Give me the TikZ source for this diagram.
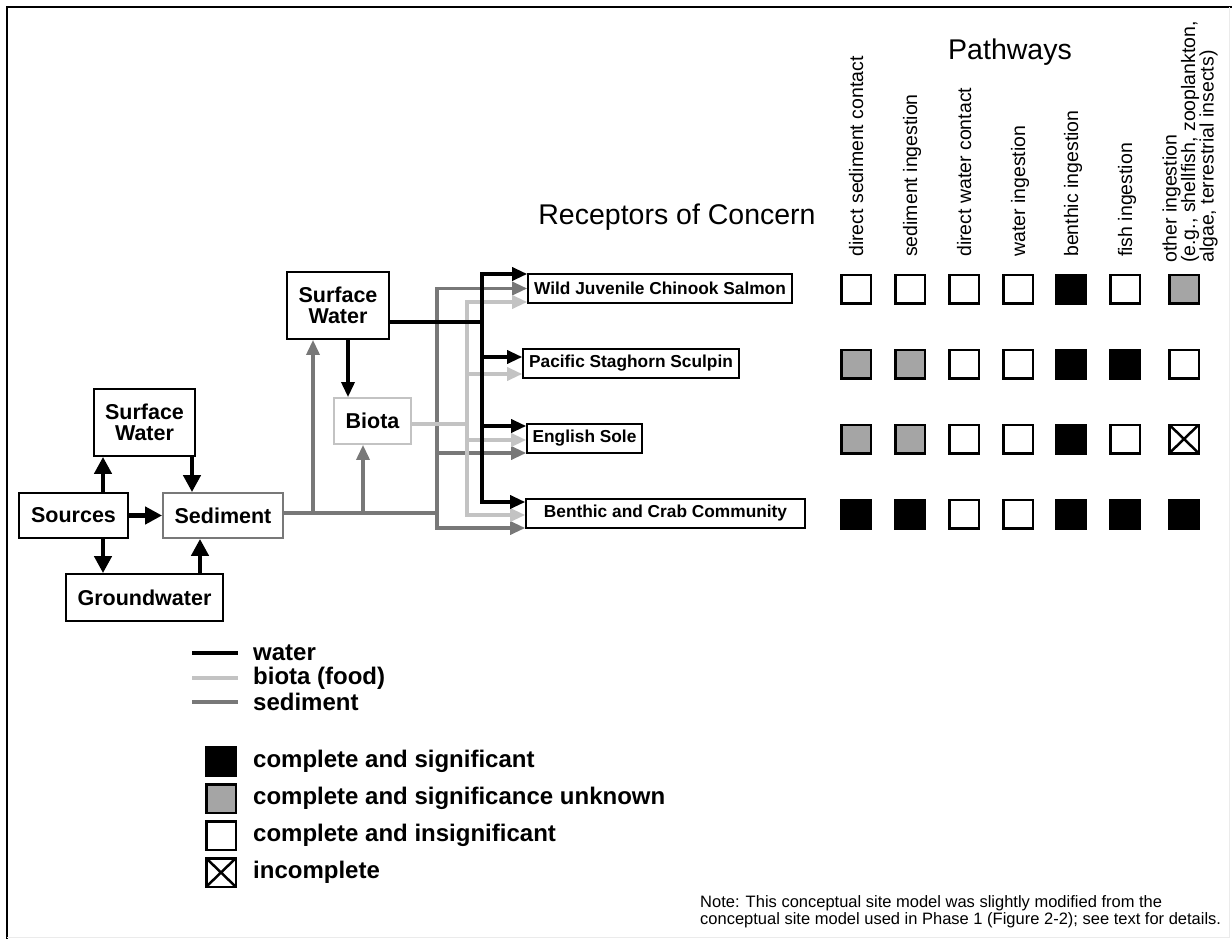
\documentclass[tikz,border=0pt]{standalone}
\usepackage{fontspec}
\setmainfont{Liberation Sans}
\usepackage{tikz}
\usetikzlibrary{arrows.meta}
\definecolor{sedgray}{RGB}{120,120,120}
\definecolor{foodgray}{RGB}{195,195,195}
\definecolor{fillgray}{RGB}{165,165,165}

\begin{document}
\begin{tikzpicture}[x=1pt, y=-1pt,
  box/.style={draw, line width=1.8pt, fill=white, inner sep=0pt, align=center, font=\fontsize{21.5}{21}\selectfont\bfseries},
  recbox/.style={draw, line width=1.6pt, fill=white, inner sep=0pt, font=\fontsize{17.3}{18}\selectfont\bfseries},
  water/.style={draw=black, line width=3.3pt},
  food/.style={draw=foodgray, line width=3.3pt},
  sedline/.style={draw=sedgray, line width=3.3pt},
  tip/.style={-{Triangle[length=15pt,width=13pt]}},
  bigtip/.style={draw=black, line width=4.5pt, -{Triangle[length=17pt,width=17pt]}},
  sq/.style={draw, line width=2.5pt, minimum width=29.5pt, minimum height=28.5pt, inner sep=0pt},
  sqk/.style={sq, fill=black},
  sqg/.style={sq, fill=fillgray},
  sqw/.style={sq, fill=white},
  sqx/.style={sq, fill=white, path picture={
    \draw[line width=2.5pt] (path picture bounding box.north west) -- (path picture bounding box.south east)
      (path picture bounding box.north east) -- (path picture bounding box.south west);}},
  colhead/.style={rotate=90, anchor=base west, inner sep=0pt, font=\fontsize{19.5}{18.5}\selectfont},
  legtext/.style={anchor=west, inner sep=0pt, font=\fontsize{24}{24}\selectfont\bfseries}
]
\useasboundingbox (0,0) rectangle (1232,939);
\draw[line width=2.5pt] (7,939) -- (7,7) -- (1232,7);
\draw[black!8, line width=1pt] (1229,7) -- (1229,937) -- (7,937);

% left part
\node[box, minimum width=101pt, minimum height=67pt] (swl) at (144.5,422.5) {Surface\\Water};
\node[box, minimum width=109pt, minimum height=45pt] (src) at (73.5,515.5) {Sources};
\node[box, draw=sedgray, minimum width=120pt, minimum height=45pt] (sed) at (223,515.5) {Sediment};
\node[box, minimum width=157pt, minimum height=47pt] (gw) at (144.5,597.5) {Groundwater};

\draw[bigtip] ([xshift=29.5pt]src.north) -- ([xshift=29.5pt]src.north |- swl.south);
\draw[bigtip] ([xshift=-31pt]sed.north |- swl.south) -- ([xshift=-31pt]sed.north);
\draw[bigtip] ([xshift=29.5pt]src.south) -- ([xshift=29.5pt]src.south |- gw.north);
\draw[bigtip] ([xshift=-23pt]sed.south |- gw.north) -- ([xshift=-23pt]sed.south);
\draw[bigtip] (src.east) -- (sed.west);

% middle part
\node[box, minimum width=102pt, minimum height=67pt] (swu) at (338,305.5) {Surface\\Water};
\node[box, draw=foodgray, minimum width=77pt, minimum height=46pt] (biota) at (372.5,421) {Biota};

\coordinate (sj1) at (313,513);
\coordinate (sj2) at (363,513);
\coordinate (sbus) at (437,513);
\coordinate (bbus) at (467,424);
\coordinate (wbus) at (482,322);

% receptors
\node[recbox, minimum width=264pt, minimum height=29pt] (wild) at (660,288.5) {Wild Juvenile Chinook Salmon};
\node[recbox, minimum width=216pt, minimum height=29pt] (pac) at (631,363.5) {Pacific Staghorn Sculpin};
\node[recbox, minimum width=115pt, minimum height=29pt] (eng) at (584.5,438.5) {English Sole};
\node[recbox, minimum width=279pt, minimum height=29pt] (ben) at (665.5,513.5) {Benthic and Crab Community};

% sediment pathways
\draw[sedline, line width=4pt] ([yshift=2.5pt]sed.east) -- (sbus);
\draw[sedline, tip] (sj1) -- (sj1 |- swu.south);
\draw[sedline, tip] (sj2) -- (sj2 |- biota.south);
\draw[sedline, tip] (sbus) |- (wild.west);
\draw[sedline, tip] (sbus) |- ([yshift=-14.5pt]eng.west);
\draw[sedline, tip] (sbus) |- ([yshift=-14.5pt]ben.west);

% biota pathways
\draw[food] ([yshift=-3pt]biota.east) -- (bbus);
\draw[food, tip] (bbus) |- ([yshift=-13.5pt]wild.west);
\draw[food, tip] (bbus) |- ([yshift=-10.5pt]pac.west);
\draw[food, tip] (bbus) |- ([yshift=-1.5pt]eng.west);
\draw[food, tip] (bbus) |- ([yshift=-1.5pt]ben.west);

% water pathways
\draw[water, tip] ([xshift=10pt]swu.south) -- ([xshift=10pt]swu.south |- biota.north);
\draw[water] ([yshift=-16.5pt]swu.east) -- (wbus);
\draw[water, tip] (wbus) |- ([yshift=14.5pt]wild.west);
\draw[water, tip] (wbus) |- ([yshift=6.5pt]pac.west);
\draw[water, tip] (wbus) |- ([yshift=12.5pt]eng.west);
\draw[water, tip] (wbus) |- ([yshift=11.5pt]ben.west);

% headings
\node[anchor=base, inner sep=0pt, font=\fontsize{28.5}{28}\selectfont] (rochead) at (677,224) {Receptors of Concern};
\node[anchor=base, inner sep=0pt, font=\fontsize{28.5}{28}\selectfont] (pathhead) at (1010,60) {Pathways};

\node[colhead] (c1) at (863,257) {direct sediment contact};
\node[colhead] (c2) at (917,257) {sediment ingestion};
\node[colhead] (c3) at (971,257) {direct water contact};
\node[colhead] (c4) at (1025,257) {water ingestion};
\node[colhead] (c5) at (1078,257) {benthic ingestion};
\node[colhead] (c6) at (1132,257) {fish ingestion};
\node[colhead, anchor=west, align=left] (c7) at (1190,263) {other ingestion\\(e.g., shellfish, zooplankton,\\algae, terrestrial insects)};

% pathway table
\node[sqw] (s11) at (856,289) {}; \node[sqw] (s12) at (910,289) {}; \node[sqw] (s13) at (964,289) {};
\node[sqw] (s14) at (1018,289) {}; \node[sqk] (s15) at (1071,289) {}; \node[sqw] (s16) at (1125,289) {};
\node[sqg] (s17) at (1184,289) {};

\node[sqg] (s21) at (856,364) {}; \node[sqg] (s22) at (910,364) {}; \node[sqw] (s23) at (964,364) {};
\node[sqw] (s24) at (1018,364) {}; \node[sqk] (s25) at (1071,364) {}; \node[sqk] (s26) at (1125,364) {};
\node[sqw] (s27) at (1184,364) {};

\node[sqg] (s31) at (856,439) {}; \node[sqg] (s32) at (910,439) {}; \node[sqw] (s33) at (964,439) {};
\node[sqw] (s34) at (1018,439) {}; \node[sqk] (s35) at (1071,439) {}; \node[sqw] (s36) at (1125,439) {};
\node[sqx] (s37) at (1184,439) {};

\node[sqk] (s41) at (856,514) {}; \node[sqk] (s42) at (910,514) {}; \node[sqw] (s43) at (964,514) {};
\node[sqw] (s44) at (1018,514) {}; \node[sqk] (s45) at (1071,514) {}; \node[sqk] (s46) at (1125,514) {};
\node[sqk] (s47) at (1184,514) {};

% legend
\node[legtext] (lwater) at (253,653) {water};
\node[legtext] (lfood) at (253,678) {biota (food)};
\node[legtext] (lsed) at (253,702) {sediment};
\draw[water] ([xshift=-61pt]lwater.west) -- ([xshift=-15pt]lwater.west);
\draw[food] ([xshift=-61pt]lfood.west) -- ([xshift=-15pt]lfood.west);
\draw[sedline] ([xshift=-61pt]lsed.west) -- ([xshift=-15pt]lsed.west);

\node[sqk] (k1) at (221,761.5) {};
\node[sqg] (k2) at (221,798.5) {};
\node[sqw] (k3) at (221,835.5) {};
\node[sqx] (k4) at (221,872.5) {};
\node[legtext] (lk1) at (253,761.5) {complete and significant};
\node[legtext] (lk2) at (253,798.5) {complete and significance unknown};
\node[legtext] (lk3) at (253,835.5) {complete and insignificant};
\node[legtext] (lk4) at (253,872.5) {incomplete};

\node[anchor=west, align=left, inner sep=0pt, font=\fontsize{16.5}{17}\selectfont] (note) at (700,911.5)
  {Note: This conceptual site model was slightly modified from the\\conceptual site model used in Phase 1 (Figure 2-2); see text for details.};
\end{tikzpicture}
\end{document}
